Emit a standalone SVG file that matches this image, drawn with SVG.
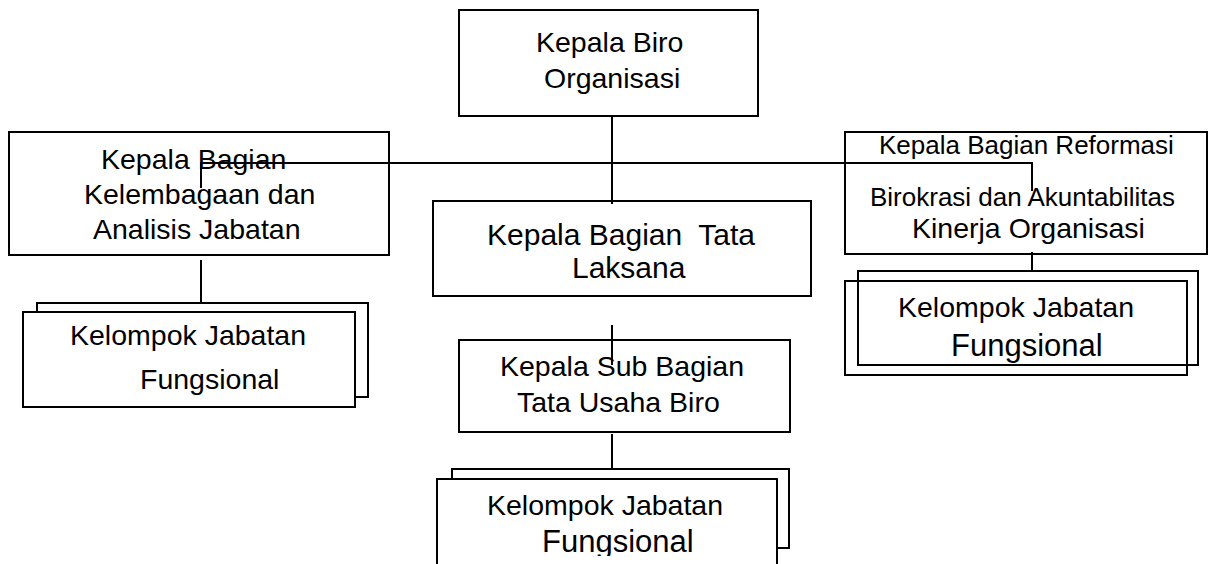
<svg xmlns="http://www.w3.org/2000/svg" width="1209" height="564" viewBox="0 0 1209 564">
<defs>
<style>
.box{fill:#fff;stroke:#000;stroke-width:2}
.hollow{fill:none;stroke:#000;stroke-width:2}
.ln{fill:none;stroke:#000;stroke-width:2}
text{font-family:"Liberation Sans",Arial,sans-serif;font-size:28.5px;fill:#000}
.s26{font-size:26px}
.s30{font-size:30px}
.s31{font-size:31px}
</style>
<clipPath id="clipBottom"><rect x="0" y="0" width="1209" height="556"/></clipPath>
</defs>
<rect width="1209" height="564" fill="#fff"/>

<g id="n-left-fung">
<rect class="box" x="37" y="303" width="331" height="94"/>
<rect class="box" x="23" y="312" width="332" height="95"/>
<text x="70" y="345">Kelompok Jabatan</text>
<text x="140" y="389">Fungsional</text>
</g>

<g id="n-right-fung">
<rect class="hollow" x="858" y="271" width="340" height="94"/>
<rect class="hollow" x="845" y="281" width="342" height="94"/>
<text x="898" y="317">Kelompok Jabatan</text>
<text class="s31" x="951" y="356">Fungsional</text>
</g>

<g id="n-bottom-fung">
<rect class="box" x="452" y="469" width="337" height="79"/>
<rect class="box" x="437" y="479" width="340" height="100"/>
<text x="487" y="515">Kelompok Jabatan</text>
<text class="s31" x="542" y="552" clip-path="url(#clipBottom)">Fungsional</text>
</g>

<g id="n-top">
<rect class="box" x="459" y="10" width="299" height="106"/>
<text x="536" y="52">Kepala Biro</text>
<text x="544" y="88">Organisasi</text>
</g>

<g id="n-left">
<rect class="box" x="9" y="132" width="380" height="123"/>
<text x="101" y="169">Kepala Bagian</text>
<text x="84" y="204">Kelembagaan dan</text>
<text x="93" y="239">Analisis Jabatan</text>
</g>

<g id="n-right">
<rect class="box" x="845" y="132" width="362" height="122"/>
<text class="s26" x="879" y="154">Kepala Bagian Reformasi</text>
<text class="s26" x="870" y="206">Birokrasi dan Akuntabilitas</text>
<text x="912" y="238">Kinerja Organisasi</text>
</g>

<g id="n-tata">
<rect class="box" x="433" y="201" width="378" height="95"/>
<text class="s30" x="487" y="245" xml:space="preserve">Kepala Bagian  Tata</text>
<text class="s30" x="572" y="278">Laksana</text>
</g>

<g id="n-sub">
<rect class="box" x="459" y="340" width="331" height="92"/>
<text x="500" y="376">Kepala Sub Bagian</text>
<text x="517" y="412">Tata Usaha Biro</text>
</g>

<g id="connectors">
<path class="ln" d="M612 116 V204"/>
<path class="ln" d="M201 188 V163 H1032 V191"/>
<path class="ln" d="M201 260 V303"/>
<path class="ln" d="M1032 252 V271"/>
<path class="ln" d="M612 325 V365"/>
<path class="ln" d="M612 434 V469"/>
</g>
</svg>
